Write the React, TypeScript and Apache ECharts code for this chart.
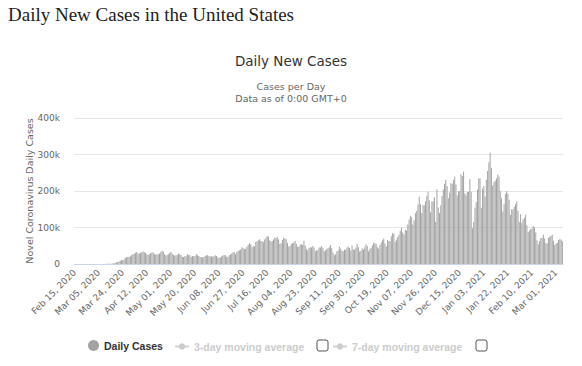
import React, { useEffect, useRef } from "react";
import * as echarts from "echarts";

// Daily new cases (Feb 15, 2020 – Mar 06, 2021)
const feb2020 = [0, 0, 0, 0, 0, 1, 2, 0, 0, 18, 0, 1, 3, 0, 7];
const mar2020 = [8, 23, 20, 31, 70, 52, 100, 120, 180, 290, 420, 510, 570, 950, 760, 1270, 1810, 2800, 5000, 5600, 6800, 9400, 10200, 10900, 13000, 17100, 18800, 20000, 19300, 21400, 25000];
const apr2020 = [27000, 28000, 31000, 33000, 28000, 29000, 31000, 32000, 34000, 33000, 30000, 27000, 25000, 27000, 30000, 31000, 32000, 27000, 26000, 27000, 26000, 29000, 32000, 36000, 34000, 27000, 23000, 25000, 27000, 30000];
const may2020 = [33000, 29000, 25000, 23000, 24000, 25000, 29000, 27000, 25000, 20000, 19000, 22000, 21000, 27000, 25000, 24000, 19000, 22000, 21000, 22000, 27000, 24000, 22000, 19000, 19000, 18000, 19000, 22000, 24000, 24000, 21000];
const jun2020 = [21000, 21000, 20000, 22000, 24000, 22000, 18000, 17000, 18000, 21000, 23000, 25000, 25000, 20000, 20000, 24000, 26000, 29000, 32000, 33000, 27000, 32000, 36000, 38000, 40000, 46000, 44000, 41000, 42000, 47000];
const jul2020 = [52000, 57000, 54000, 46000, 50000, 48000, 60000, 62000, 65000, 68000, 63000, 62000, 60000, 67000, 72000, 77000, 75000, 65000, 62000, 63000, 67000, 72000, 71000, 75000, 67000, 55000, 57000, 66000, 72000, 70000, 68000];
const aug2020 = [58000, 48000, 49000, 55000, 57000, 59000, 63000, 55000, 47000, 47000, 53000, 55000, 52000, 64000, 51000, 41000, 37000, 44000, 46000, 45000, 49000, 45000, 35000, 37000, 39000, 45000, 45000, 49000, 43000, 35000, 37000];
const sep2020 = [41000, 43000, 46000, 52000, 43000, 31000, 24000, 27000, 35000, 37000, 47000, 42000, 36000, 35000, 39000, 40000, 45000, 48000, 44000, 37000, 51000, 40000, 40000, 45000, 55000, 46000, 34000, 36000, 43000, 40000];
const oct2020 = [46000, 54000, 49000, 35000, 41000, 44000, 51000, 58000, 57000, 55000, 46000, 42000, 52000, 59000, 65000, 70000, 56000, 48000, 66000, 62000, 63000, 76000, 84000, 83000, 61000, 67000, 74000, 80000, 91000, 99000, 86000];
const nov2020 = [81000, 94000, 92000, 108000, 121000, 132000, 128000, 108000, 120000, 139000, 145000, 163000, 184000, 164000, 140000, 161000, 161000, 171000, 187000, 198000, 175000, 142000, 171000, 172000, 183000, 116000, 205000, 155000, 140000, 160000];
const dec2020 = [186000, 204000, 220000, 231000, 214000, 180000, 196000, 221000, 220000, 230000, 240000, 218000, 188000, 199000, 199000, 246000, 241000, 253000, 194000, 188000, 197000, 198000, 232000, 198000, 98000, 115000, 154000, 170000, 204000, 234000, 235000];
const jan2021 = [154000, 207000, 214000, 185000, 231000, 255000, 279000, 305000, 262000, 215000, 224000, 228000, 234000, 245000, 240000, 200000, 180000, 144000, 164000, 191000, 199000, 193000, 176000, 135000, 150000, 150000, 156000, 164000, 171000, 146000, 115000];
const feb2021 = [136000, 113000, 122000, 127000, 135000, 106000, 88000, 92000, 95000, 97000, 104000, 100000, 86000, 65000, 54000, 63000, 71000, 71000, 80000, 70000, 57000, 57000, 71000, 75000, 77000, 80000, 64000, 52000];
const mar2021 = [56000, 58000, 66000, 68000, 67000, 62000];

const dailyCases = [
  ...feb2020, ...mar2020, ...apr2020, ...may2020, ...jun2020, ...jul2020,
  ...aug2020, ...sep2020, ...oct2020, ...nov2020, ...dec2020, ...jan2021,
  ...feb2021, ...mar2021,
];

const MONTHS = ["Jan", "Feb", "Mar", "Apr", "May", "Jun", "Jul", "Aug", "Sep", "Oct", "Nov", "Dec"];
const START = Date.UTC(2020, 1, 15);
const dates = dailyCases.map((_, i) => {
  const d = new Date(START + i * 86400000);
  const dd = String(d.getUTCDate()).padStart(2, "0");
  return `${MONTHS[d.getUTCMonth()]} ${dd}, ${d.getUTCFullYear()}`;
});

const yTicks = [0, 100000, 200000, 300000, 400000];

const SANS = "DejaVu Sans";
const LEG = "Liberation Sans";

export default function App() {
  const ref = useRef<HTMLDivElement>(null);
  useEffect(() => {
    if (!ref.current) return;
    const chart = echarts.init(ref.current, null, { renderer: "svg" });
    chart.setOption({
      animation: false,
      backgroundColor: "#fff",
      title: [
        {
          text: "Daily New Cases in the United States",
          left: 8,
          top: 5,
          padding: 0,
          textStyle: { fontFamily: "Liberation Serif", fontSize: 19, fontWeight: "normal", color: "#222" },
        },
        {
          text: "Daily New Cases",
          left: "center",
          top: 54,
          padding: 0,
          textStyle: { fontFamily: SANS, fontSize: 13.5, fontWeight: "normal", color: "#333" },
        },
        {
          text: "Cases per Day",
          left: "center",
          top: 81,
          padding: 0,
          textStyle: { fontFamily: SANS, fontSize: 9.5, fontWeight: "normal", color: "#666" },
        },
        {
          text: "Data as of 0:00 GMT+0",
          left: "center",
          top: 93,
          padding: 0,
          textStyle: { fontFamily: SANS, fontSize: 9.5, fontWeight: "normal", color: "#666" },
        },
      ],
      grid: { left: 74, right: 19, top: 118, bottom: 102, containLabel: false },
      legend: [
        {
          data: [{ name: "Daily Cases", icon: "circle" }],
          left: 88,
          top: 340,
          padding: 0,
          itemWidth: 11,
          itemHeight: 11,
          itemGap: 0,
          textStyle: { fontFamily: LEG, fontSize: 10.5, fontWeight: "bold", color: "#333" },
          selectedMode: false,
        },
        {
          data: ["3-day moving average"],
          left: 174,
          top: 341,
          padding: 0,
          itemWidth: 14,
          itemHeight: 8,
          inactiveColor: "#ccc",
          textStyle: { fontFamily: LEG, fontSize: 10.5, fontWeight: "bold", color: "#ccc" },
          selected: { "3-day moving average": false },
        },
        {
          data: ["7-day moving average"],
          left: 332,
          top: 341,
          padding: 0,
          itemWidth: 14,
          itemHeight: 8,
          inactiveColor: "#ccc",
          textStyle: { fontFamily: LEG, fontSize: 10.5, fontWeight: "bold", color: "#ccc" },
          selected: { "7-day moving average": false },
        },
      ],
      graphic: [
        {
          type: "rect",
          shape: { x: 317, y: 340, width: 11, height: 11, r: 2 },
          style: { fill: "#fff", stroke: "#555", lineWidth: 1 },
        },
        {
          type: "rect",
          shape: { x: 476, y: 340, width: 11, height: 11, r: 2 },
          style: { fill: "#fff", stroke: "#555", lineWidth: 1 },
        },
      ],
      xAxis: {
        type: "category",
        data: dates,
        boundaryGap: true,
        axisLine: { lineStyle: { color: "#ccd6eb" } },
        axisTick: { show: false },
        axisLabel: {
          interval: 18,
          rotate: 45,
          fontFamily: SANS,
          fontSize: 9,
          color: "#666",
          margin: 7,
        },
      },
      yAxis: {
        type: "value",
        min: yTicks[0],
        max: yTicks[yTicks.length - 1],
        interval: 100000,
        name: "Novel Coronavirus Daily Cases",
        nameLocation: "middle",
        nameGap: 40,
        nameMoveOverlap: false,
        nameTextStyle: { fontFamily: SANS, fontSize: 9.5, color: "#666" },
        axisLine: { show: false },
        axisTick: { show: false },
        splitLine: { lineStyle: { color: "#e6e6e6" } },
        axisLabel: {
          fontFamily: SANS,
          fontSize: 9,
          color: "#666",
          margin: 14,
          formatter: (v: number) => (v === 0 ? "0" : `${v / 1000}k`),
        },
      },
      series: [
        {
          name: "Daily Cases",
          type: "bar",
          data: dailyCases,
          barWidth: "75%",
          itemStyle: { color: "#a3a3a3" },
        },
        {
          name: "3-day moving average",
          type: "line",
          data: [],
          symbol: "circle",
          itemStyle: { color: "#ccc" },
        },
        {
          name: "7-day moving average",
          type: "line",
          data: [],
          symbol: "circle",
          itemStyle: { color: "#ccc" },
        },
      ],
    });
    return () => chart.dispose();
  }, []);
  return (
    <div
      ref={ref}
      style={{ position: "absolute", left: 0, top: 0, width: 582, height: 366 }}
    />
  );
}
